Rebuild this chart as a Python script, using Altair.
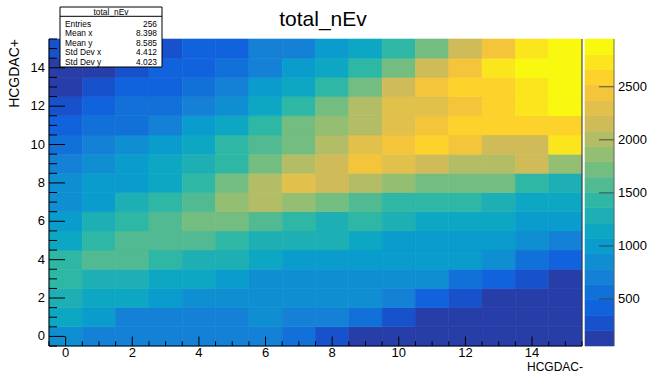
import altair as alt
import numpy as np
import pandas as pd

TITLE = "total_nEv"
X_TITLE = "HCGDAC-"
Y_TITLE = "HCGDAC+"

x_bins = list(range(16))
# counts per row, y bin 0 (bottom) ... 15 (top), x bins 0..15
row_00 = [855, 710, 710, 710, 710, 710, 710, 565, 275, 130, 130, 130, 130, 130, 130, 57]
row_01 = [1145, 1000, 710, 710, 710, 710, 855, 710, 710, 565, 275, 130, 130, 130, 130, 130]
row_02 = [1290, 1145, 1145, 1000, 855, 855, 855, 855, 855, 855, 710, 420, 275, 130, 130, 130]
row_03 = [1435, 1290, 1290, 1145, 1145, 1000, 855, 855, 855, 855, 855, 855, 565, 420, 275, 130]
row_04 = [1435, 1580, 1580, 1435, 1290, 1290, 1145, 1000, 1000, 1000, 1000, 1000, 1000, 855, 565, 420]
row_05 = [1145, 1435, 1580, 1580, 1580, 1435, 1290, 1290, 1290, 1145, 1000, 1000, 1000, 1000, 855, 710]
row_06 = [1000, 1290, 1435, 1580, 1725, 1725, 1580, 1435, 1290, 1435, 1290, 1145, 1145, 1145, 1000, 1000]
row_07 = [855, 1000, 1290, 1435, 1580, 1870, 2015, 1870, 1725, 1580, 1435, 1435, 1435, 1290, 1145, 1145]
row_08 = [855, 1000, 1000, 1145, 1435, 1725, 2015, 2305, 2160, 2015, 1870, 1725, 1725, 1725, 1435, 1290]
row_09 = [710, 855, 1000, 1145, 1290, 1435, 1725, 2015, 2160, 2450, 2305, 2160, 2015, 2015, 2160, 1870]
row_10 = [565, 710, 855, 1000, 1145, 1435, 1580, 1725, 2015, 2305, 2450, 2595, 2450, 2160, 2160, 2740]
row_11 = [420, 565, 565, 710, 1000, 1145, 1435, 1725, 1870, 2015, 2305, 2450, 2595, 2595, 2595, 2595]
row_12 = [275, 420, 565, 565, 710, 855, 1145, 1435, 1725, 2015, 2305, 2305, 2450, 2595, 2740, 2885]
row_13 = [130, 275, 420, 420, 565, 710, 1000, 1145, 1435, 1725, 2160, 2450, 2595, 2595, 2740, 2885]
row_14 = [130, 130, 275, 420, 420, 565, 710, 1000, 1145, 1435, 1725, 2160, 2450, 2740, 2885, 2950]
row_15 = [275, 275, 275, 275, 420, 420, 710, 710, 1000, 1145, 1435, 1725, 2160, 2450, 2740, 2885]
rows = [row_00, row_01, row_02, row_03, row_04, row_05, row_06, row_07,
        row_08, row_09, row_10, row_11, row_12, row_13, row_14, row_15]

stat_names = ["Entries", "Mean x", "Mean y", "Std Dev x", "Std Dev y"]
stat_values = ["256", "8.398", "8.585", "4.412", "4.023"]

z_min, z_max = 57, 2950
cbar_ticks = [500, 1000, 1500, 2000, 2500]
axis_labels = [0, 2, 4, 6, 8, 10, 12, 14]

# ---- ROOT kBird palette, 20 contour levels ----
bird_r = [0.2082, 0.0592, 0.0780, 0.0232, 0.1802, 0.5301, 0.8186, 0.9956, 0.9764]
bird_g = [0.1664, 0.3599, 0.5041, 0.6419, 0.7178, 0.7492, 0.7328, 0.7862, 0.9832]
bird_b = [0.5293, 0.8684, 0.8385, 0.7914, 0.6425, 0.4662, 0.3499, 0.1968, 0.0539]
stops = np.linspace(0, 1, 9)
n_levels = 20
colors = []
for i in range(n_levels):
    k = int((i + 0.99) * 255 / n_levels)
    t = k / 255
    r = np.interp(t, stops, bird_r)
    g = np.interp(t, stops, bird_g)
    b = np.interp(t, stops, bird_b)
    colors.append("#%02x%02x%02x" % (int(round(r * 255)), int(round(g * 255)), int(round(b * 255))))

FONT = "Liberation Sans"
W_HEAT = 533
W_ALL = 565
H = 307
LO, HI = -0.5, 15.5

heat_df = pd.DataFrame(
    [{"x": x, "y": yi, "n": v} for yi, row in enumerate(rows) for x, v in zip(x_bins, row)]
)

xs = alt.Scale(domain=[LO, HI], range=[0, W_HEAT], nice=False, zero=False)
ys = alt.Scale(domain=[LO, HI], nice=False, zero=False)
cs = alt.Scale(type="quantize", domain=[z_min, z_max], range=colors)

heat = (
    alt.Chart(heat_df)
    .transform_calculate(x0="datum.x - 0.5", x1="datum.x + 0.5",
                         y0="datum.y - 0.5", y1="datum.y + 0.5")
    .mark_rect(strokeWidth=0.6)
    .encode(
        x=alt.X("x0:Q", scale=xs, axis=None),
        x2="x1:Q",
        y=alt.Y("y0:Q", scale=ys, axis=None),
        y2="y1:Q",
        color=alt.Color("n:Q", scale=cs, legend=None),
        stroke=alt.Stroke("n:Q", scale=cs, legend=None),
    )
)

# ---- axes (lines, ticks, labels) ----
tick_pos = np.arange(LO, HI + 0.01, 0.5)
major_df = pd.DataFrame({"v": axis_labels, "lab": [str(v) for v in axis_labels]})
minor_df = pd.DataFrame({"v": [p for p in tick_pos if p not in axis_labels]})
one_df = pd.DataFrame({"v": [LO]})

x_line = alt.Chart(one_df).mark_rule(color="black", strokeWidth=1).encode(
    x=alt.value(0), x2=alt.value(W_HEAT), y=alt.value(H))
y_line = alt.Chart(one_df).mark_rule(color="black", strokeWidth=1).encode(
    x=alt.value(0), y=alt.value(0), y2=alt.value(H))
right_edge = alt.Chart(one_df).mark_rule(color="#333", strokeWidth=1).encode(
    x=alt.value(W_HEAT), y=alt.value(0), y2=alt.value(H))

x_major = alt.Chart(major_df).mark_rule(color="black").encode(
    x=alt.X("v:Q", scale=xs, axis=None), y=alt.value(H), y2=alt.value(H - 9.5))
x_minor = alt.Chart(minor_df).mark_rule(color="black").encode(
    x=alt.X("v:Q", scale=xs, axis=None), y=alt.value(H), y2=alt.value(H - 4.7))
y_major = alt.Chart(major_df).mark_rule(color="black").encode(
    y=alt.Y("v:Q", scale=ys, axis=None), x=alt.value(0), x2=alt.value(16))
y_minor = alt.Chart(minor_df).mark_rule(color="black").encode(
    y=alt.Y("v:Q", scale=ys, axis=None), x=alt.value(0), x2=alt.value(8))

x_labels = alt.Chart(major_df).mark_text(font=FONT, fontSize=13, align="center",
                                         baseline="alphabetic", color="black").encode(
    x=alt.X("v:Q", scale=xs, axis=None), y=alt.value(H + 11), text="lab:N")
y_labels = alt.Chart(major_df).mark_text(font=FONT, fontSize=13, align="right",
                                         baseline="middle", color="black").encode(
    y=alt.Y("v:Q", scale=ys, axis=None), x=alt.value(-4), text="lab:N")

# ---- colour bar (values mapped onto the same vertical scale) ----
edges = np.linspace(z_min, z_max, n_levels + 1)
band_df = pd.DataFrame({"lo": edges[:-1], "hi": edges[1:], "mid": (edges[:-1] + edges[1:]) / 2})
to_y = "{lo} + (datum.{f} - {zmin}) / ({zmax} - {zmin}) * ({hi} - {lo})"
cbar = (
    alt.Chart(band_df)
    .transform_calculate(
        b0=to_y.format(lo=LO, hi=HI, zmin=z_min, zmax=z_max, f="lo"),
        b1=to_y.format(lo=LO, hi=HI, zmin=z_min, zmax=z_max, f="hi"))
    .mark_rect(strokeWidth=0.6)
    .encode(
        x=alt.value(W_HEAT + 3), x2=alt.value(W_ALL),
        y=alt.Y("b0:Q", scale=ys, axis=None), y2="b1:Q",
        color=alt.Color("mid:Q", scale=cs, legend=None),
        stroke=alt.Stroke("mid:Q", scale=cs, legend=None),
    )
)
cb_df = pd.DataFrame({"v": cbar_ticks, "lab": [str(v) for v in cbar_ticks]})
cbar_tick = (
    alt.Chart(cb_df)
    .transform_calculate(p=to_y.format(lo=LO, hi=HI, zmin=z_min, zmax=z_max, f="v"))
    .mark_rule(color="#3a3a3a", opacity=0.85)
    .encode(y=alt.Y("p:Q", scale=ys, axis=None), x=alt.value(W_ALL - 15), x2=alt.value(W_ALL))
)
cbar_lab = (
    alt.Chart(cb_df)
    .transform_calculate(p=to_y.format(lo=LO, hi=HI, zmin=z_min, zmax=z_max, f="v"))
    .mark_text(font=FONT, fontSize=13, align="left", baseline="middle", color="black")
    .encode(y=alt.Y("p:Q", scale=ys, axis=None), x=alt.value(W_ALL + 4), text="lab:N")
)
cbar_edge = alt.Chart(one_df).mark_rule(color="#555", strokeWidth=0.8).encode(
    x=alt.value(W_ALL), y=alt.value(0), y2=alt.value(H))

# ---- stats box ----
box_df = pd.DataFrame({"t": [TITLE]})
stat_box = alt.Chart(box_df).mark_rect(fill="white", stroke="black", strokeWidth=1).encode(
    x=alt.value(11), x2=alt.value(113), y=alt.value(-32), y2=alt.value(28))
stat_sep = alt.Chart(box_df).mark_rule(color="black", strokeWidth=1).encode(
    x=alt.value(11), x2=alt.value(113), y=alt.value(-22.7))
stat_head = alt.Chart(box_df).mark_text(font=FONT, fontSize=8.4, align="center",
                                        baseline="alphabetic", color="black").encode(
    text="t:N", x=alt.value(62), y=alt.value(-24.5))
stat_layers = [stat_box, stat_sep, stat_head]
stat_baselines = [-12.5, -2.7, 6.8, 16.3, 25.5]
for i, (nm, val) in enumerate(zip(stat_names, stat_values)):
    d = pd.DataFrame({"name": [nm], "value": [val]})
    stat_layers.append(
        alt.Chart(d).mark_text(font=FONT, fontSize=8.4, align="left", baseline="alphabetic",
                               color="black").encode(text="name:N", x=alt.value(16),
                                                     y=alt.value(stat_baselines[i])))
    stat_layers.append(
        alt.Chart(d).mark_text(font=FONT, fontSize=8.4, align="right", baseline="alphabetic",
                               color="black").encode(text="value:N", x=alt.value(108),
                                                     y=alt.value(stat_baselines[i])))

title_mark = alt.Chart(pd.DataFrame({"t": [TITLE]})).mark_text(
    font=FONT, fontSize=21, align="center", baseline="alphabetic", color="black").encode(
    text="t:N", x=alt.value(274), y=alt.value(-13))
xtitle_mark = alt.Chart(pd.DataFrame({"t": [X_TITLE]})).mark_text(
    font=FONT, fontSize=12, align="right", baseline="alphabetic", color="black").encode(
    text="t:N", x=alt.value(W_HEAT + 1), y=alt.value(H + 25))
ytitle_mark = alt.Chart(pd.DataFrame({"t": [Y_TITLE]})).mark_text(
    font=FONT, fontSize=14, align="right", baseline="alphabetic", angle=270, color="black").encode(
    text="t:N", x=alt.value(-30), y=alt.value(0))

chart = (
    alt.layer(heat, right_edge, x_line, y_line, x_major, x_minor, y_major, y_minor,
              x_labels, y_labels, cbar, cbar_tick, cbar_lab, cbar_edge,
              *stat_layers, title_mark, xtitle_mark, ytitle_mark)
    .properties(width=W_ALL, height=H,
                padding={"left": 49, "top": 39, "right": 33, "bottom": 28},
                autosize=alt.AutoSizeParams(type="none"),
                background="white")
    .configure_view(stroke=None)
)

chart.save("out.html", embed_options={"renderer": "svg", "actions": False})
